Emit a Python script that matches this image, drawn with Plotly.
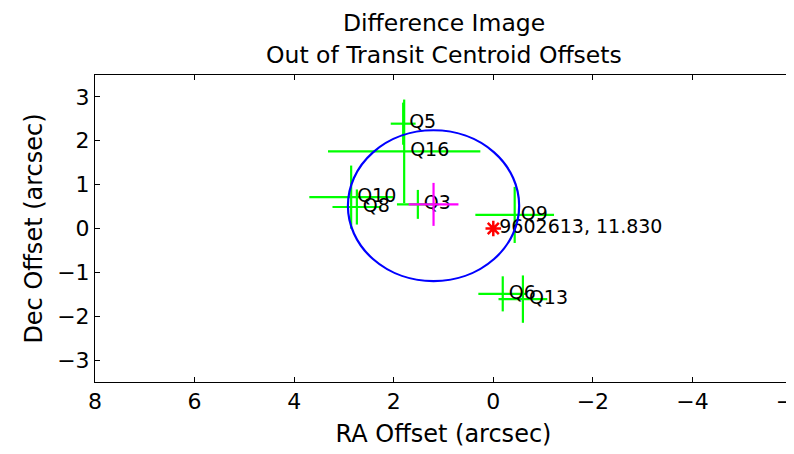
import plotly.graph_objects as go

# Per-quarter centroid offsets (arcsec)
quarters = ["Q3", "Q5", "Q6", "Q8", "Q9", "Q10", "Q13", "Q16"]
ra_off = [1.515, 1.81, -0.19, 2.74, -0.43, 2.855, -0.595, 1.79]
dec_off = [0.55, 2.39, -1.49, 0.49, 0.31, 0.715, -1.61, 1.76]
ra_err = [0.42, 0.25, 0.49, 0.49, 0.79, 0.84, 0.49, 1.53]
dec_err = [0.33, 0.48, 0.40, 0.40, 0.64, 0.72, 0.54, 1.18]

# Mean offset
mean_ra = [1.20]
mean_dec = [0.55]
mean_ra_err = [0.50]
mean_dec_err = [0.49]

# Uncertainty circle
circle_center = (1.20, 0.52)
circle_radius = 1.72

# Target (KIC position)
target_ra = [0.0]
target_dec = [0.0]
target_label = ["9602613, 11.830"]

font_family = "DejaVu Sans"
green = "#00ff00"

fig = go.Figure()

fig.add_trace(go.Scatter(
    x=ra_off, y=dec_off, mode="markers+text",
    text=quarters, textposition="middle right",
    textfont=dict(family=font_family, size=19, color="black"),
    marker=dict(size=8, color="rgba(0,0,0,0)"),
    error_x=dict(type="data", array=ra_err, color=green, thickness=2.2, width=0),
    error_y=dict(type="data", array=dec_err, color=green, thickness=2.2, width=0),
    showlegend=False, hoverinfo="skip", cliponaxis=False,
))

fig.add_trace(go.Scatter(
    x=mean_ra, y=mean_dec, mode="markers",
    marker=dict(size=1, color="#ff00ff"),
    error_x=dict(type="data", array=mean_ra_err, color="#ff00ff", thickness=2.2, width=0),
    error_y=dict(type="data", array=mean_dec_err, color="#ff00ff", thickness=2.2, width=0),
    showlegend=False, hoverinfo="skip",
))

fig.add_trace(go.Scatter(
    x=target_ra, y=target_dec, mode="markers",
    marker=dict(symbol="asterisk-open", size=13, color="red", line=dict(color="red", width=2.5)),
    showlegend=False, hoverinfo="skip",
))
fig.add_trace(go.Scatter(
    x=target_ra, y=target_dec, mode="markers+text",
    text=target_label, textposition="middle right",
    textfont=dict(family=font_family, size=19, color="black"),
    marker=dict(size=8, color="rgba(0,0,0,0)"),
    showlegend=False, hoverinfo="skip",
))

cx, cy = circle_center
fig.add_shape(type="circle", xref="x", yref="y",
              x0=cx - circle_radius, x1=cx + circle_radius,
              y0=cy - circle_radius, y1=cy + circle_radius,
              line=dict(color="#0000ff", width=2.2), layer="above")

axis_common = dict(
    showline=True, linecolor="black", linewidth=1, mirror="ticks",
    ticks="inside", ticklen=5, tickcolor="black", tickwidth=1,
    showgrid=False, zeroline=False, automargin=False,
    ticklabeloverflow="allow",
    tickfont=dict(family=font_family, size=22, color="black"),
)

fig.update_xaxes(range=[8, -6], dtick=2, tick0=0,
                 title=dict(text="RA Offset (arcsec)", standoff=11,
                            font=dict(family=font_family, size=24, color="black")),
                 **axis_common)
fig.update_yaxes(range=[-3.5, 3.5], dtick=1, tick0=0,
                 title=dict(text="Dec Offset (arcsec)", standoff=7,
                            font=dict(family=font_family, size=24, color="black")),
                 **axis_common)

# page has an 8px body margin; plot area spans px 95..792 x 75..382 on screen
plot_top, plot_bottom = 67, 374
def paper_y(py):
    return (plot_bottom - py) / (plot_bottom - plot_top)

fig.add_annotation(text="Difference Image", xref="paper", yref="paper",
                   x=0.5, y=paper_y(15), xanchor="center", yanchor="middle",
                   showarrow=False, font=dict(family=font_family, size=23.5, color="black"))
fig.add_annotation(text="Out of Transit Centroid Offsets", xref="paper", yref="paper",
                   x=0.5, y=paper_y(47), xanchor="center", yanchor="middle",
                   showarrow=False, font=dict(family=font_family, size=23.5, color="black"))

fig.update_layout(
    width=786, height=446,
    margin=dict(l=87, r=2, t=67, b=72, autoexpand=False),
    paper_bgcolor="white", plot_bgcolor="white",
    font=dict(family=font_family, color="black"),
)

fig.write_html("out.html")
